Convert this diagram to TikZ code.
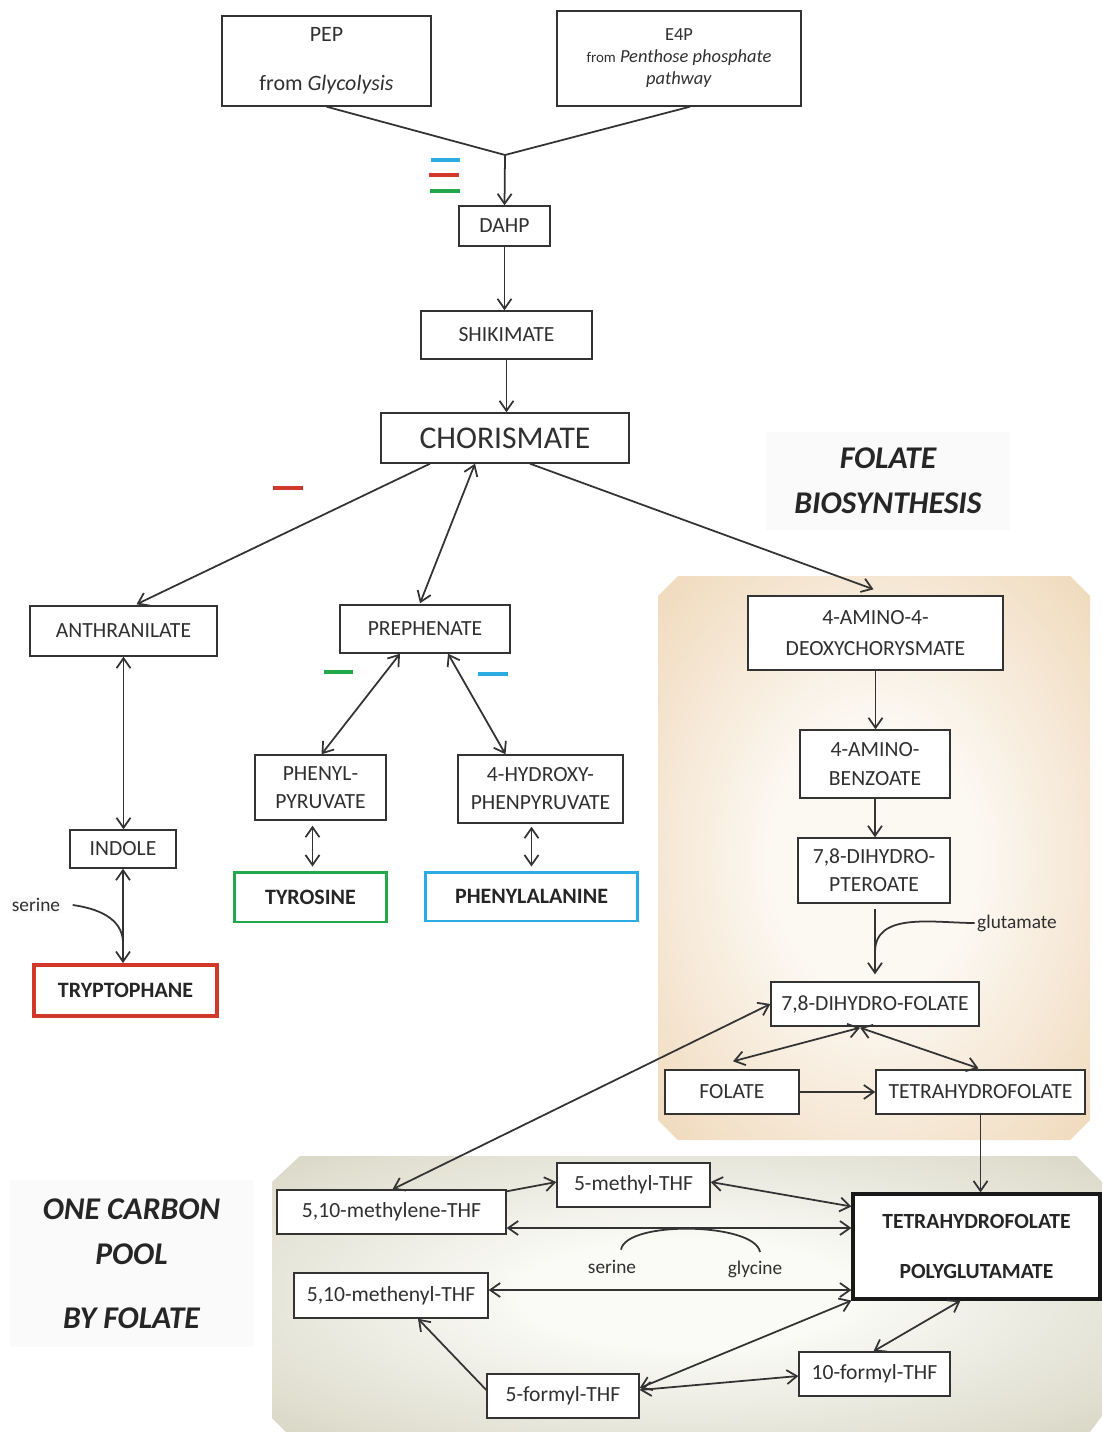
\documentclass[tikz,border=0pt]{standalone}
\usepackage{fontspec}
\setmainfont{Carlito}
\usetikzlibrary{arrows.meta}

\definecolor{txt}{HTML}{303030}
\definecolor{edge}{HTML}{333333}
\definecolor{inhblue}{HTML}{2AACE2}
\definecolor{inhred}{HTML}{D2382A}
\definecolor{inhgreen}{HTML}{22A84B}
\definecolor{folin}{HTML}{FCF8F2}
\definecolor{folout}{HTML}{E8C699}
\definecolor{poolin}{HTML}{FAFAF6}
\definecolor{poolout}{HTML}{C6C4AB}

\pgfdeclareradialshading{folglow}{\pgfpoint{0bp}{0bp}}{color(0bp)=(folin); color(12bp)=(folin); color(50bp)=(folout); color(72bp)=(folout)}
\pgfdeclareradialshading{poolglow}{\pgfpoint{0bp}{0bp}}{color(0bp)=(poolin); color(10bp)=(poolin); color(50bp)=(poolout); color(72bp)=(poolout)}

\begin{document}
\begin{tikzpicture}[x=0.02cm, y=-0.02cm, line width=1pt, draw=edge,
  >={Straight Barb[length=2mm,width=2.8mm]},
  box/.style={draw=edge, line width=0.8pt, fill=white, text=txt, align=center,
    inner sep=0pt, font=\fontsize{12.3}{16}\selectfont},
  endbox/.style={box, text=black!85, font=\fontsize{12.5}{16}\selectfont\bfseries},
  lab/.style={text=txt, inner sep=1pt, font=\fontsize{11}{13}\selectfont},
  title/.style={fill=black!2, text=black!85, align=center, inner sep=0pt,
    font=\fontsize{18}{25.5}\selectfont\bfseries\itshape},
  bar/.style={line width=2.6pt}]
  \useasboundingbox (0,0) rectangle (1102,1432);

  % shaded areas
  \shade[shading=folglow] (678,576) -- (1070,576) -- (1090,596) -- (1090,1120)
    -- (1070,1140) -- (678,1140) -- (658,1120) -- (658,596) -- cycle;
  \shade[shading=poolglow] (300,1156) -- (1076,1156) -- (1102,1182) -- (1102,1416)
    -- (1090,1432) -- (286,1432) -- (272,1418) -- (272,1182) -- cycle;

  \node[title, minimum width=4.88cm, minimum height=1.96cm] (fbio) at (888,481) {FOLATE\\BIOSYNTHESIS};
  \node[title, minimum width=4.86cm, minimum height=3.34cm] (ocp) at (131.5,1263.5) {ONE CARBON\\POOL\\[11pt]BY FOLATE};

  % shikimate pathway
  \node[box, minimum width=4.18cm, minimum height=1.8cm, font=\fontsize{12.5}{28}\selectfont] (pep) at (326.5,61) {PEP\\from \textit{Glycolysis}};
  \node[box, minimum width=4.88cm, minimum height=1.9cm, font=\fontsize{10.5}{12.5}\selectfont] (e4p) at (679,58.5) {E4P\\{\fontsize{8.5}{12.5}\selectfont from} \textit{Penthose phosphate}\\\textit{pathway}};
  \node[box, minimum width=1.82cm, minimum height=0.8cm] (dahp) at (504.5,226) {DAHP};
  \node[box, minimum width=3.42cm, minimum height=0.96cm] (shik) at (506.5,335) {SHIKIMATE};
  \node[box, minimum width=4.96cm, minimum height=1.0cm, font=\fontsize{18}{20}\selectfont] (chor) at (505,438) {CHORISMATE};

  \node[box, minimum width=3.74cm, minimum height=1.0cm] (anth) at (123.5,631) {ANTHRANILATE};
  \node[box, minimum width=2.12cm, minimum height=0.76cm] (indole) at (123,849) {INDOLE};
  \node[endbox, draw=inhred, line width=2.2pt, minimum width=3.66cm, minimum height=1.02cm] (tryp) at (125.5,990.5) {TRYPTOPHANE};

  \node[box, minimum width=3.4cm, minimum height=0.96cm] (preph) at (425,629) {PREPHENATE};
  \node[box, minimum width=2.62cm, minimum height=1.3cm] (phpy) at (320.5,787.5) {PHENYL-\\PYRUVATE};
  \node[box, minimum width=3.3cm, minimum height=1.36cm] (hppy) at (540.5,789) {4-HYDROXY-\\PHENPYRUVATE};
  \node[endbox, draw=inhgreen, line width=1.7pt, minimum width=3.06cm, minimum height=1.0cm] (tyr) at (310.5,897) {TYROSINE};
  \node[endbox, draw=inhblue, line width=1.7pt, minimum width=4.26cm, minimum height=0.98cm] (phe) at (531.5,896.5) {PHENYLALANINE};

  % folate biosynthesis
  \node[box, minimum width=5.1cm, minimum height=1.48cm, font=\fontsize{12.3}{17.6}\selectfont] (amino) at (875.5,633) {4-AMINO-4-\\DEOXYCHORYSMATE};
  \node[box, minimum width=3.0cm, minimum height=1.36cm] (benz) at (875,764) {4-AMINO-\\BENZOATE};
  \node[box, minimum width=3.04cm, minimum height=1.3cm] (pter) at (874,870.5) {7,8-DIHYDRO-\\PTEROATE};
  \node[box, minimum width=4.16cm, minimum height=0.88cm] (dhf) at (875,1004) {7,8-DIHYDRO-FOLATE};
  \node[box, minimum width=2.68cm, minimum height=0.88cm] (fol) at (732,1092) {FOLATE};
  \node[box, minimum width=4.18cm, minimum height=0.88cm] (thf) at (980.5,1092) {TETRAHYDROFOLATE};

  % one carbon pool
  \node[box, minimum width=4.58cm, minimum height=0.88cm] (mlene) at (391.5,1212) {5,10-methylene-THF};
  \node[box, minimum width=3.06cm, minimum height=0.88cm] (mthf) at (633.5,1185) {5-methyl-THF};
  \node[box, minimum width=3.88cm, minimum height=0.9cm] (menyl) at (391,1295.5) {5,10-methenyl-THF};
  \node[box, minimum width=3.04cm, minimum height=0.88cm] (fmyl) at (563,1396) {5-formyl-THF};
  \node[box, minimum width=3.02cm, minimum height=0.88cm] (tfmyl) at (874.5,1374) {10-formyl-THF};
  \node[endbox, draw=black!90, line width=1.8pt, minimum width=4.94cm, minimum height=2.1cm, font=\fontsize{12.3}{29}\selectfont\bfseries] (tpg) at (976.5,1246.5) {TETRAHYDROFOLATE\\POLYGLUTAMATE};

  \node[lab, fill=black!2] (serine) at (36,905) {serine};
  \node[lab] (glu) at (1017,923) {glutamate};
  \node[lab] (ser2) at (612,1267) {serine};
  \node[lab] (gly) at (755,1269) {glycine};

  % inhibitions
  \draw[bar, inhblue] (431,160) -- (460,160);
  \draw[bar, inhred] (429,175) -- (459,175);
  \draw[bar, inhgreen] (430,191) -- (460,191);
  \draw[bar, inhred] (273,488) -- (303,488);
  \draw[bar, inhgreen] (324,672) -- (353,672);
  \draw[bar, inhblue] (478,674) -- (508,674);

  % connectors
  \coordinate (fork) at (505,155);
  \draw (pep.south) -- (fork);
  \draw ([shift={(11,0)}]e4p.south) -- (fork);
  \draw[->] (fork) -- (dahp.north);
  \draw[->] (dahp.south) -- (dahp.south |- shik.north);
  \draw[->] (shik.south) -- (shik.south |- chor.north);

  \draw[->] ([shift={(-75,0)}]chor.south) -- ([shift={(13,-1)}]anth.north);
  \draw[<->] ([shift={(-30,0)}]chor.south) -- ([shift={(-5,-1)}]preph.north);
  \draw[->] ([shift={(25,0)}]chor.south) -- ([shift={(-2,-6)}]amino.north);

  \draw[<->] ([shift={(-25,0)}]preph.south) -- ([shift={(1,0)}]phpy.north);
  \draw[<->] ([shift={(23,0)}]preph.south) -- ([shift={(-35,0)}]hppy.north);
  \draw[<->] ([shift={(-8,5)}]phpy.south) -- ([shift={(2,-4)}]tyr.north);
  \draw[<->] ([shift={(-9,3)}]hppy.south) -- ([shift={(0,-4)}]phe.north);

  \draw[<->] (anth.south) -- (anth.south |- indole.north);
  \draw[<->] (indole.south) -- (indole.south |- tryp.north);
  \coordinate (serjoin) at (123,942);
  \draw ([shift={(10,0)}]serine.east) to[out=-8, in=92] (serjoin);

  \draw[->] (amino.south) -- (amino.south |- benz.north);
  \draw[->] (benz.south) -- (benz.south |- pter.north);
  \draw[->] ([shift={(1,5)}]pter.south) -- ([shift={(0,-7)}]dhf.north);
  \coordinate (glujoin) at (875,952);
  \draw (glu.west) to[out=180, in=90] (glujoin);

  \draw[<->] ([shift={(-15,1)}]dhf.south) -- ([shift={(1,-8)}]fol.north);
  \draw[<->] ([shift={(-15,1)}]dhf.south) -- ([shift={(-2,-1)}]thf.north);
  \draw[->] (fol.east) -- (thf.west);
  \draw[->] (thf.south) -- (thf.south |- tpg.north);

  \draw[<->] ([shift={(1,0)}]mlene.north) -- (dhf.west);
  \draw[->] ([shift={(0,2)}]mlene.north east) -- ([shift={(0,-3)}]mthf.west);
  \draw[<->] ([shift={(0,-3)}]mthf.east) -- ([shift={(0,-40)}]tpg.west);
  \draw[<->] ([shift={(0,16)}]mlene.east) -- ([shift={(0,-18.5)}]tpg.west);
  \draw[<->] ([shift={(0,-5.5)}]menyl.east) -- ([shift={(0,43.5)}]tpg.west);
  \draw[->] ([shift={(0,-6)}]fmyl.west) -- ([shift={(27,0)}]menyl.south);
  \draw[<->] ([shift={(0,-8)}]fmyl.east) -- (tpg.south west);
  \draw[<->] ([shift={(0,-6)}]fmyl.east) -- ([shift={(0,2)}]tfmyl.west);
  \draw[<->] ([shift={(-16,0)}]tpg.south) -- ([shift={(-1,0)}]tfmyl.north);
  \draw ([shift={(9,-8)}]ser2.north) to[out=80, in=100, looseness=0.55] ([shift={(5,-6)}]gly.north);
\end{tikzpicture}
\end{document}
